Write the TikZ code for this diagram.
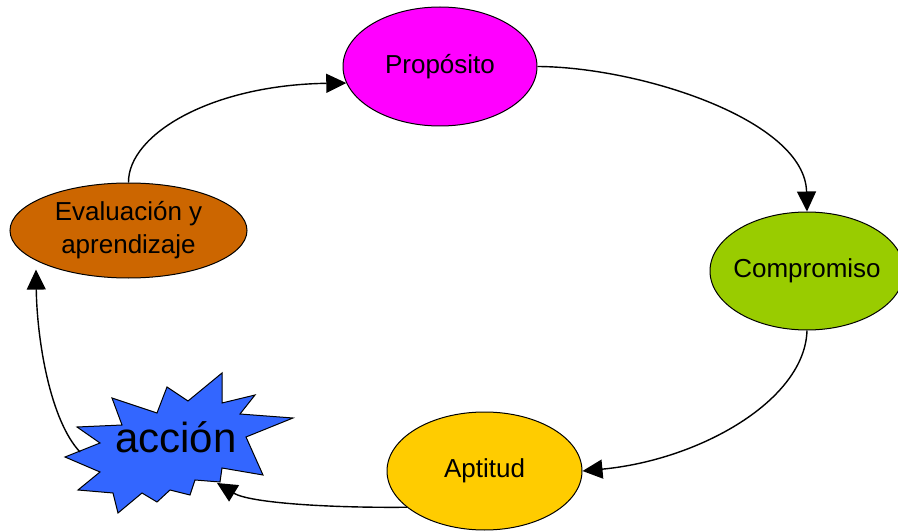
\documentclass[tikz,border=0pt]{standalone}
\usepackage{fontspec}
\setmainfont{Liberation Sans}
\usetikzlibrary{arrows.meta,shapes.geometric}

\definecolor{propcolor}{HTML}{FF00FF}
\definecolor{compcolor}{HTML}{99CC00}
\definecolor{aptcolor}{HTML}{FFCC00}
\definecolor{evalcolor}{HTML}{CC6600}
\definecolor{accioncolor}{HTML}{3366FF}

\begin{document}
\begin{tikzpicture}[x=1pt,y=-1pt,
    bubble/.style={ellipse, draw, line width=1pt, inner sep=0pt, align=center, font=\fontsize{26}{33}\selectfont},
    link/.style={line width=1.4pt, -{Triangle[length=20pt,width=19pt]}}]
    \useasboundingbox (0,0) rectangle (898,532);

    % Ellipses
    \node[bubble, fill=propcolor, minimum width=194pt, minimum height=119pt] (prop) at (440,66.5) {Propósito};
    \node[bubble, fill=compcolor, minimum width=194pt, minimum height=118pt, inner xsep=-6pt] (comp) at (807,271) {Compromiso};
    \node[bubble, fill=aptcolor, minimum width=195pt, minimum height=118pt] (apt) at (484.5,471) {Aptitud};
    \node[bubble, fill=evalcolor, minimum width=237pt, minimum height=95pt] (eval) at (128.5,230.5) {Evaluación y\\aprendizaje};

    % Starburst
    \filldraw[fill=accioncolor, line width=1pt] (222,373) -- (222,403) -- (255,395) -- (240,414) -- (293,418)
        -- (246,437) -- (263,475) -- (222,468) -- (220,482) -- (195,480) -- (190,495) -- (170,490)
        -- (157,502) -- (142,493) -- (118,513) -- (113,493) -- (78,490) -- (100,472) -- (65,457)
        -- (100,443) -- (77,427) -- (122,425) -- (112,398) -- (157,413) -- (167,387) -- (188,401) -- cycle;
    \node[font=\fontsize{42}{42}\selectfont] (accion) at (176,437) {acción};
    \coordinate (accionleft) at (80,452);
    \coordinate (accionright) at (217,483);

    % Cycle arrows
    \draw[link] (eval.north) .. controls (128,135) and (210,85) .. (prop.190);
    \draw[link] (prop.east) .. controls (640,67) and (805,120) .. (comp.north);
    \draw[link] (comp.south) .. controls (805,400) and (700,460) .. (apt.east);
    \draw[link] (apt.205) .. controls (330,508) and (250,503) .. (accionright);
    \draw[link, shorten >=9pt] (accionleft) .. controls (50,420) and (37,340) .. (eval.198);
\end{tikzpicture}
\end{document}
